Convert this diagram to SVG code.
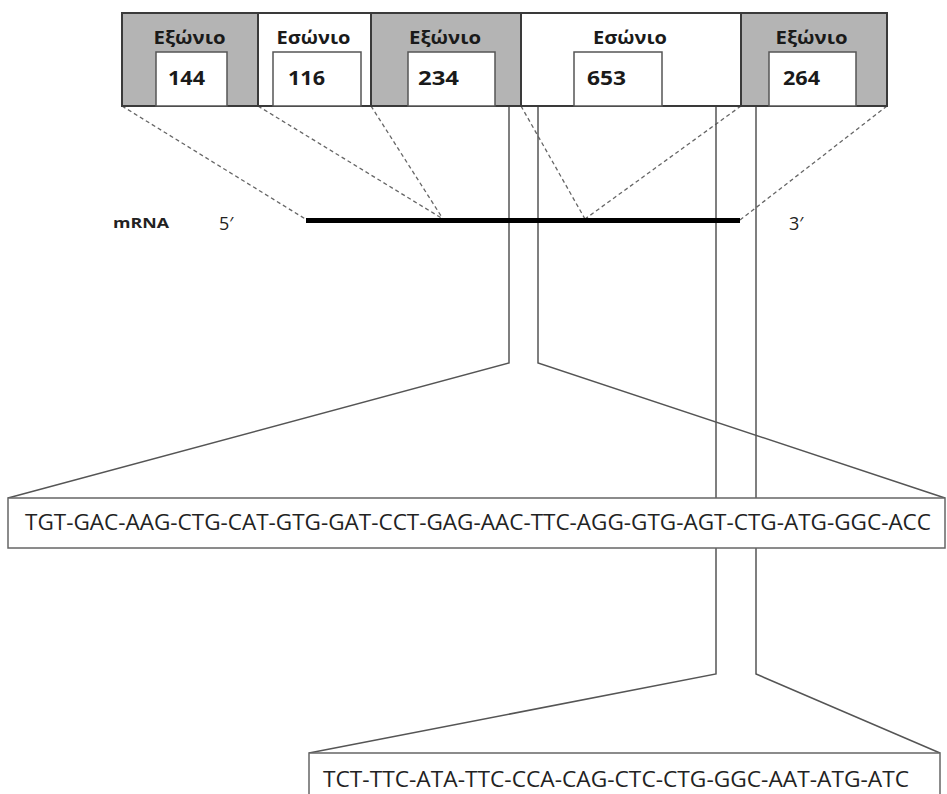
<svg xmlns="http://www.w3.org/2000/svg" width="947" height="794" viewBox="0 0 947 794">
<style>
.exon{fill:#b4b4b4;stroke:#3a3a3a;stroke-width:2}
.intron{fill:#ffffff;stroke:#3a3a3a;stroke-width:2}
.inner{fill:#ffffff;stroke:#555;stroke-width:1.5}
.lbl{font-family:"Open Sans","DejaVu Sans",sans-serif;font-weight:bold;font-size:17px;fill:#1a1a1a;text-anchor:middle}
.num{font-family:"Open Sans","DejaVu Sans",sans-serif;font-weight:bold;font-size:19px;fill:#1a1a1a}
.dash{stroke:#666;stroke-width:1.3;stroke-dasharray:4 3;fill:none}
.solid{stroke:#555;stroke-width:1.5;fill:none}
.seqbox{fill:#ffffff;stroke:#666;stroke-width:1.5}
.seq{font-family:"Open Sans","DejaVu Sans",sans-serif;font-size:22px;fill:#222}
.small{font-family:"Open Sans","DejaVu Sans",sans-serif;fill:#222}
</style>
<rect width="947" height="794" fill="#ffffff"/>
<g id="connectors">
<line class="dash" x1="122" y1="106" x2="307" y2="220"/>
<line class="dash" x1="258" y1="106" x2="443" y2="219"/>
<line class="dash" x1="371" y1="106" x2="443" y2="219"/>
<line class="dash" x1="521" y1="106" x2="585" y2="219"/>
<line class="dash" x1="741" y1="106" x2="585" y2="219"/>
<line class="dash" x1="887" y1="106" x2="740" y2="220"/>
<polyline class="solid" points="509,106 509,363 8,498"/>
<polyline class="solid" points="538,106 538,363 945,498"/>
<polyline class="solid" points="716,106 716,674 309,753"/>
<polyline class="solid" points="756,106 756,674 940,753"/>
</g>
<g id="exon1">
<rect class="exon" x="122" y="13" width="136" height="93"/>
<text class="lbl" x="189.5" y="44" textLength="72" lengthAdjust="spacingAndGlyphs">Εξώνιο</text>
<rect class="inner" x="156" y="52" width="71" height="54"/>
<text class="num" x="168" y="85" textLength="37" lengthAdjust="spacingAndGlyphs">144</text>
</g>
<g id="intron1">
<rect class="intron" x="258" y="13" width="113" height="93"/>
<text class="lbl" x="313.5" y="44" textLength="74" lengthAdjust="spacingAndGlyphs">Εσώνιο</text>
<rect class="inner" x="273" y="52" width="88" height="54"/>
<text class="num" x="288" y="85" textLength="37" lengthAdjust="spacingAndGlyphs">116</text>
</g>
<g id="exon2">
<rect class="exon" x="371" y="13" width="150" height="93"/>
<text class="lbl" x="445" y="44" textLength="72" lengthAdjust="spacingAndGlyphs">Εξώνιο</text>
<rect class="inner" x="408" y="52" width="87" height="54"/>
<text class="num" x="418" y="85" textLength="41" lengthAdjust="spacingAndGlyphs">234</text>
</g>
<g id="intron2">
<rect class="intron" x="521" y="13" width="220" height="93"/>
<text class="lbl" x="630" y="44" textLength="74" lengthAdjust="spacingAndGlyphs">Εσώνιο</text>
<rect class="inner" x="574" y="52" width="88" height="54"/>
<text class="num" x="587" y="85" textLength="39" lengthAdjust="spacingAndGlyphs">653</text>
</g>
<g id="exon3">
<rect class="exon" x="741" y="13" width="146" height="93"/>
<text class="lbl" x="811.5" y="44" textLength="72" lengthAdjust="spacingAndGlyphs">Εξώνιο</text>
<rect class="inner" x="769" y="52" width="87" height="54"/>
<text class="num" x="783" y="85" textLength="37" lengthAdjust="spacingAndGlyphs">264</text>
</g>
<g id="mrna">
<text class="small" x="113" y="228" font-size="14" font-weight="bold" textLength="56" lengthAdjust="spacingAndGlyphs">mRNA</text>
<text class="small" x="219" y="230" font-size="18">5′</text>
<rect x="306" y="218" width="434" height="5" fill="#000"/>
<text class="small" x="789" y="230" font-size="18">3′</text>
</g>
<g id="seq1">
<rect class="seqbox" x="8" y="498" width="937" height="50"/>
<text class="seq" x="25" y="530" textLength="906" lengthAdjust="spacingAndGlyphs">TGT-GAC-AAG-CTG-CAT-GTG-GAT-CCT-GAG-AAC-TTC-AGG-GTG-AGT-CTG-ATG-GGC-ACC</text>
</g>
<g id="seq2">
<rect class="seqbox" x="309" y="753" width="631" height="60"/>
<text class="seq" x="323" y="787" textLength="586" lengthAdjust="spacingAndGlyphs">TCT-TTC-ATA-TTC-CCA-CAG-CTC-CTG-GGC-AAT-ATG-ATC</text>
</g>
</svg>
